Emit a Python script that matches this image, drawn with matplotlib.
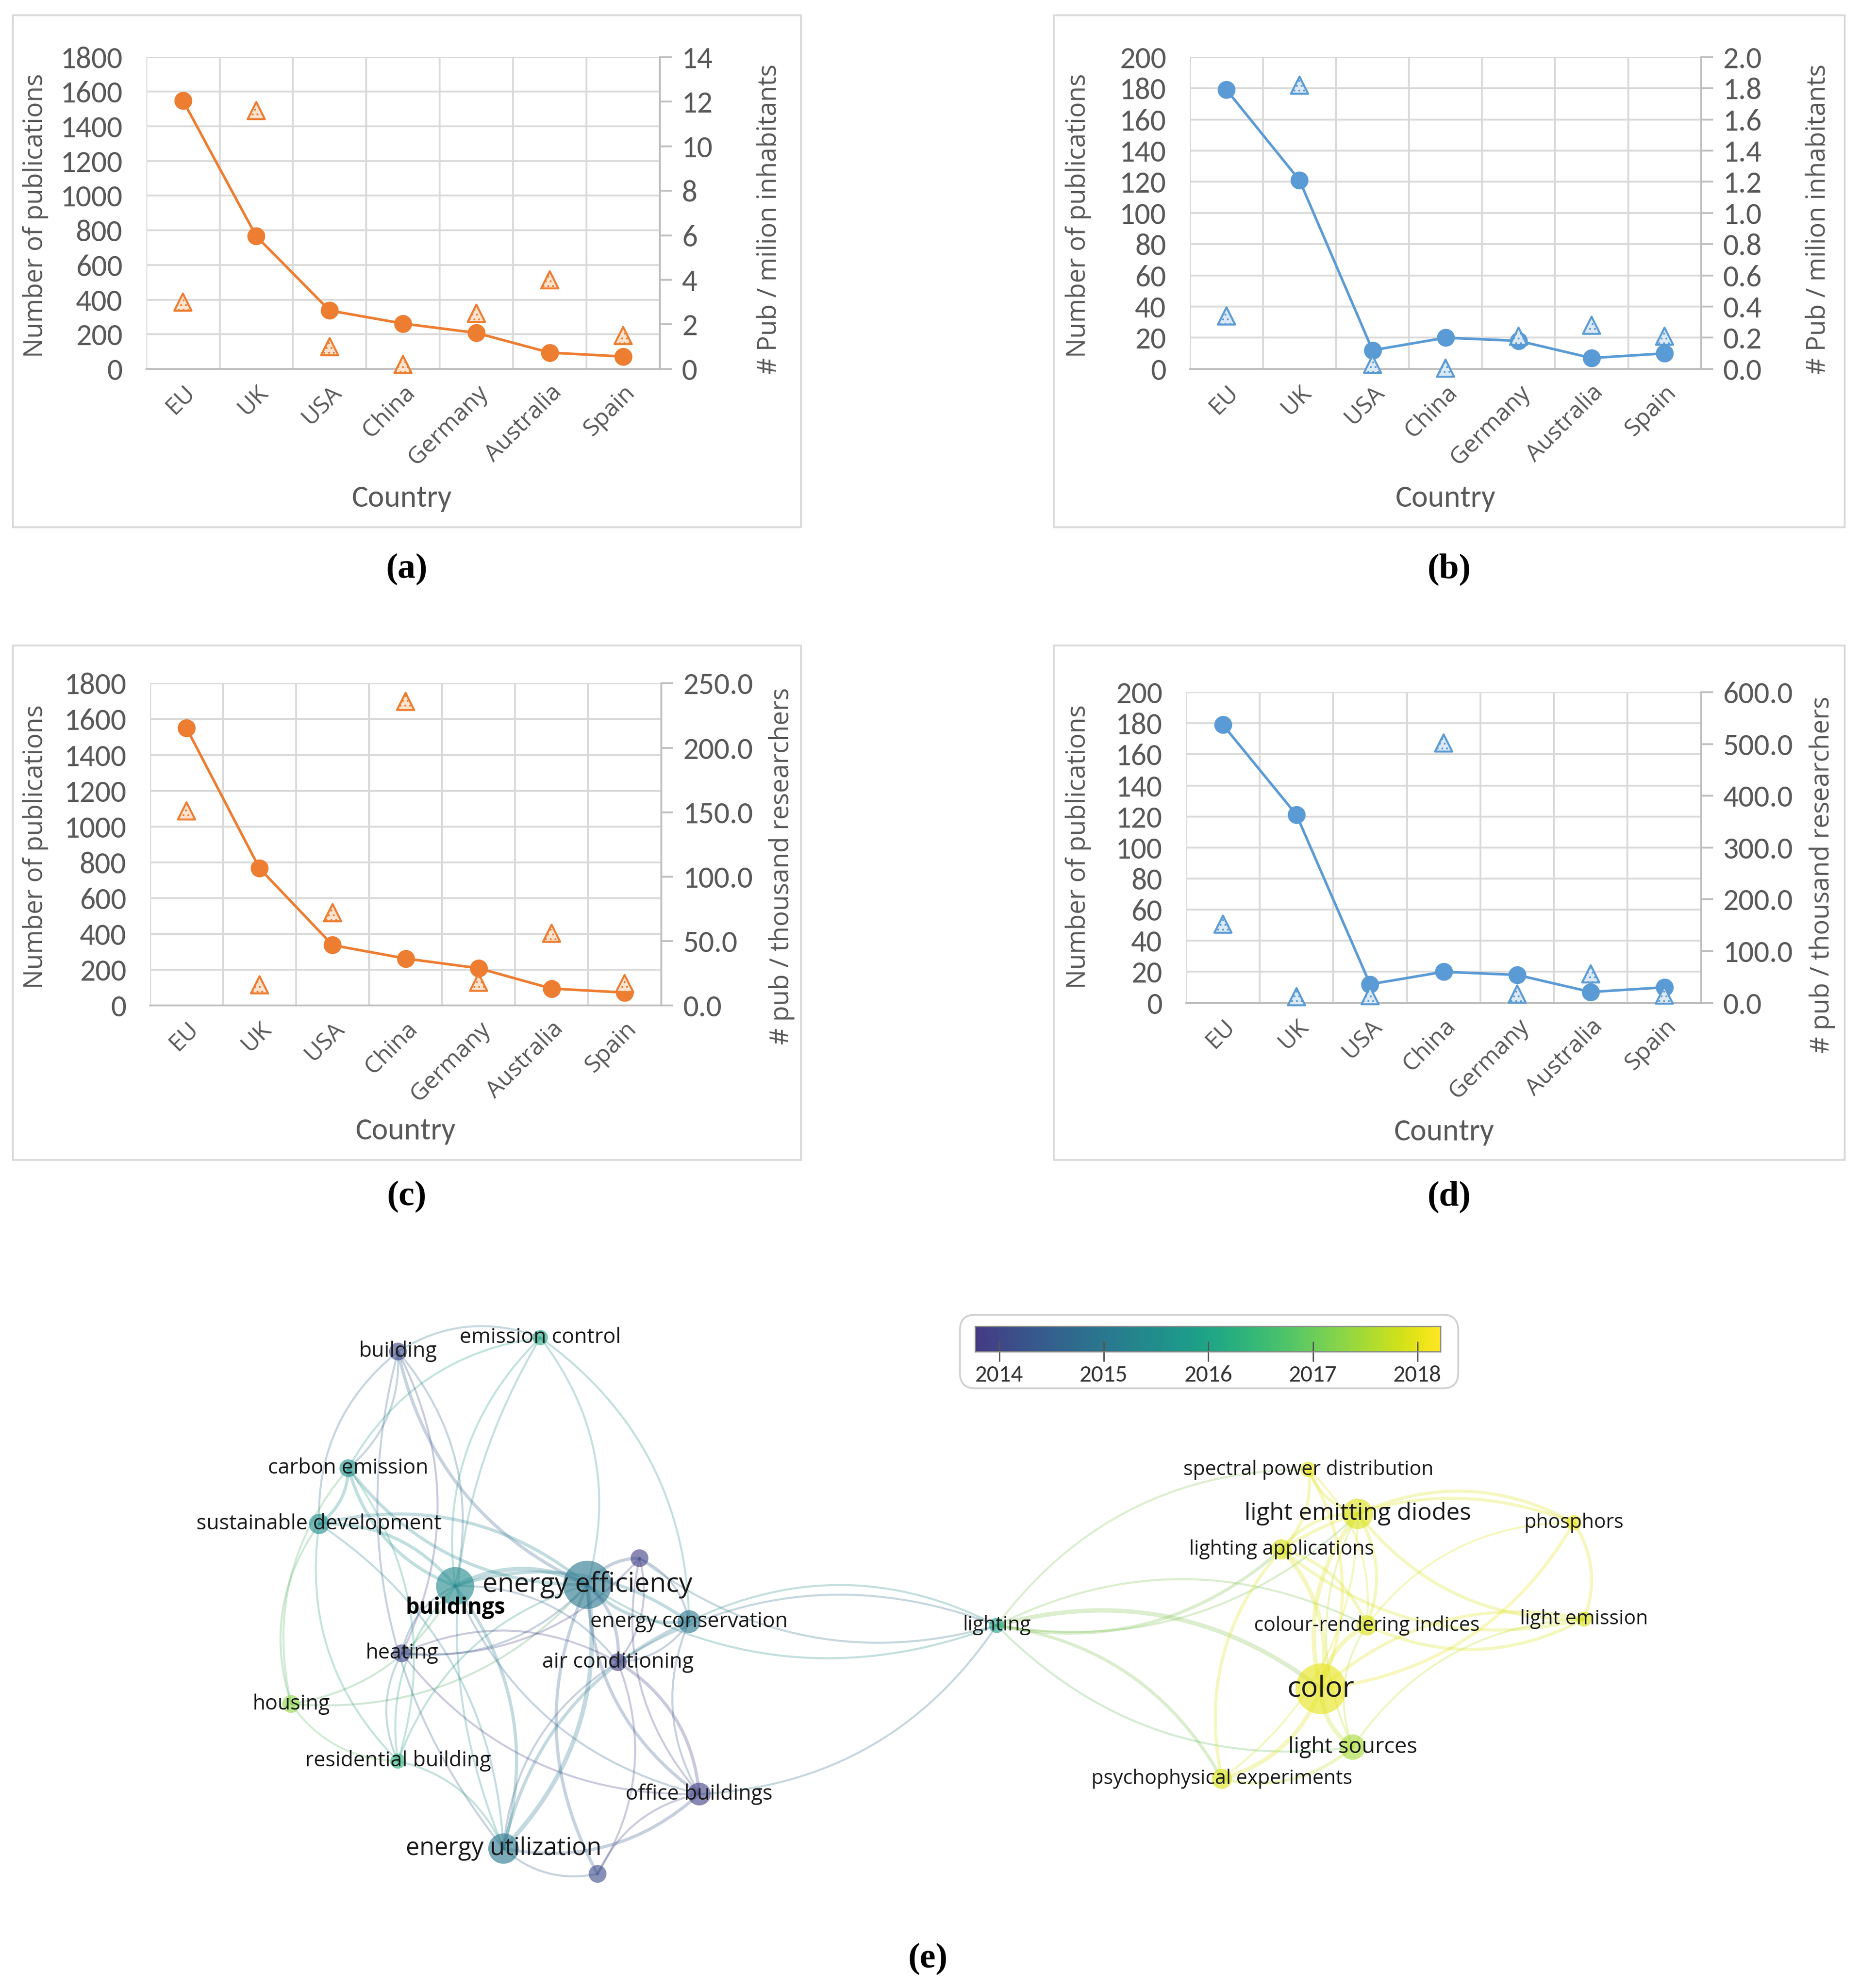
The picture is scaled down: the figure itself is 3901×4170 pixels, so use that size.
import matplotlib.pyplot as plt
from matplotlib.patches import Rectangle, Circle, FancyArrowPatch, FancyBboxPatch
from matplotlib.colors import Normalize, ListedColormap
import matplotlib.ticker as mticker
import numpy as np

plt.rcParams['hatch.linewidth'] = 0.5

NARROW = ['Carlito', 'DejaVu Sans']
WIDE = ['Open Sans', 'DejaVu Sans']
SERIF = ['Liberation Serif', 'DejaVu Serif']

# ---- data for panels a-d ----
countries = ['EU', 'UK', 'USA', 'China', 'Germany', 'Australia', 'Spain']
pubs_energy = [1550, 766, 337, 262, 208, 94, 72]
pubs_light = [179, 121, 12, 20, 18, 7, 10]
energy_per_inhab = [3.0, 11.6, 1.0, 0.2, 2.5, 4.0, 1.5]
light_per_inhab = [0.34, 1.82, 0.03, 0.005, 0.21, 0.28, 0.21]
energy_per_res = [151, 16, 72, 236, 18, 56, 17]
light_per_res = [152, 12, 14, 502, 17, 56, 15]

# ---- data for panel e (keyword network) ----
node_names = ['building', 'emission control', 'carbon emission', 'sustainable development',
              'buildings', 'energy efficiency', 'n1', 'energy conservation', 'heating',
              'air conditioning', 'housing', 'residential building', 'office buildings',
              'energy utilization', 'n2', 'lighting', 'spectral power distribution',
              'light emitting diodes', 'lighting applications', 'phosphors',
              'colour-rendering indices', 'light emission', 'color', 'light sources',
              'psychophysical experiments']
node_x = [313, 425, 274, 251, 358, 462, 503, 542, 316, 486, 229, 313, 550, 396, 470,
          784, 1029, 1068, 1008, 1238, 1075, 1246, 1039, 1064, 961]
node_y = [1066, 1055, 1158, 1202, 1251, 1250, 1229, 1279, 1304, 1311, 1344, 1389, 1415,
          1458, 1478, 1282, 1159, 1194, 1222, 1201, 1282, 1277, 1332, 1378, 1403]
node_year = [2014.0, 2016.1, 2015.6, 2015.5, 2015.4, 2015.0, 2013.9, 2015.0, 2014.0,
             2013.9, 2017.3, 2016.3, 2013.9, 2015.0, 2014.1, 2015.9, 2018.0, 2017.9,
             2017.9, 2018.0, 2017.9, 2017.9, 2018.0, 2017.5, 2017.9]
node_size = [7, 6, 7, 8, 15, 19, 7, 9, 7, 7, 7, 6, 9, 12, 7, 6, 6, 12, 8, 6, 8, 6, 20, 10, 8]
label_size = [10.5, 10.5, 10.5, 10.5, 11, 13.5, 0, 10.5, 10.5, 10.5, 10.5, 10.5, 10.5,
              12.3, 0, 10, 10, 12, 10, 10, 10, 10, 14.5, 11, 10]

edges = [
    ('energy efficiency', 'buildings', 3), ('energy efficiency', 'energy utilization', 3),
    ('energy efficiency', 'energy conservation', 2), ('energy efficiency', 'air conditioning', 2),
    ('energy efficiency', 'office buildings', 2), ('energy efficiency', 'building', 2),
    ('energy efficiency', 'emission control', 1), ('energy efficiency', 'carbon emission', 2),
    ('energy efficiency', 'sustainable development', 2), ('energy efficiency', 'heating', 1),
    ('energy efficiency', 'residential building', 1), ('energy efficiency', 'housing', 1),
    ('energy efficiency', 'lighting', 1), ('energy efficiency', 'n1', 2),
    ('energy efficiency', 'n2', 2), ('buildings', 'energy utilization', 2),
    ('buildings', 'sustainable development', 2), ('buildings', 'carbon emission', 2),
    ('buildings', 'building', 1), ('buildings', 'energy conservation', 2),
    ('buildings', 'heating', 1), ('buildings', 'housing', 1),
    ('buildings', 'residential building', 1), ('buildings', 'air conditioning', 1),
    ('buildings', 'office buildings', 1), ('buildings', 'emission control', 1),
    ('sustainable development', 'carbon emission', 2), ('sustainable development', 'building', 1),
    ('sustainable development', 'residential building', 1),
    ('sustainable development', 'energy utilization', 1), ('sustainable development', 'housing', 1),
    ('carbon emission', 'emission control', 1), ('carbon emission', 'building', 1),
    ('carbon emission', 'residential building', 1), ('carbon emission', 'housing', 1),
    ('building', 'heating', 1), ('building', 'energy utilization', 1),
    ('building', 'emission control', 1), ('emission control', 'energy utilization', 1),
    ('emission control', 'energy conservation', 1), ('heating', 'residential building', 1),
    ('heating', 'air conditioning', 1), ('heating', 'office buildings', 1),
    ('air conditioning', 'office buildings', 2), ('air conditioning', 'energy utilization', 1),
    ('air conditioning', 'n2', 1), ('air conditioning', 'energy conservation', 1),
    ('office buildings', 'energy utilization', 2), ('office buildings', 'n2', 1),
    ('office buildings', 'energy conservation', 1), ('energy utilization', 'n2', 1),
    ('energy utilization', 'energy conservation', 2), ('energy utilization', 'residential building', 1),
    ('n1', 'air conditioning', 1), ('n1', 'office buildings', 1), ('n1', 'energy conservation', 1),
    ('n1', 'lighting', 1), ('energy conservation', 'lighting', 1), ('office buildings', 'lighting', 1),
    ('n1', 'heating', 1), ('housing', 'residential building', 1),
    ('lighting', 'color', 3), ('lighting', 'lighting applications', 2),
    ('lighting', 'spectral power distribution', 1), ('lighting', 'light emitting diodes', 1),
    ('lighting', 'psychophysical experiments', 2), ('lighting', 'light sources', 1),
    ('lighting', 'colour-rendering indices', 1), ('lighting', 'air conditioning', 1),
    ('color', 'light emitting diodes', 3), ('color', 'lighting applications', 3),
    ('color', 'colour-rendering indices', 3), ('color', 'light sources', 3),
    ('color', 'psychophysical experiments', 3), ('color', 'spectral power distribution', 2),
    ('color', 'light emission', 2), ('color', 'phosphors', 2),
    ('light emitting diodes', 'spectral power distribution', 2),
    ('light emitting diodes', 'lighting applications', 2), ('light emitting diodes', 'phosphors', 2),
    ('light emitting diodes', 'light emission', 2), ('light emitting diodes', 'colour-rendering indices', 2),
    ('light emitting diodes', 'light sources', 1), ('light emitting diodes', 'psychophysical experiments', 1),
    ('lighting applications', 'spectral power distribution', 2),
    ('lighting applications', 'colour-rendering indices', 2), ('lighting applications', 'light emission', 2),
    ('lighting applications', 'phosphors', 2), ('lighting applications', 'psychophysical experiments', 2),
    ('phosphors', 'light emission', 2), ('phosphors', 'colour-rendering indices', 1),
    ('light emission', 'colour-rendering indices', 2), ('light emission', 'light sources', 1),
    ('light sources', 'psychophysical experiments', 2), ('colour-rendering indices', 'light sources', 1),
    ('spectral power distribution', 'colour-rendering indices', 1),
]

year_ticks = [2014, 2015, 2016, 2017, 2018]

# ---- layout helpers (reference pixel grid 1463 x 1568) ----
W, H = 1463.0, 1568.0


def box(x0, y0, x1, y1):
    return [x0 / W, 1 - y1 / H, (x1 - x0) / W, (y1 - y0) / H]


fig = plt.figure(figsize=(3901 / 300, 4170 / 300), dpi=300)

ORANGE = '#ED7D31'
BLUE = '#5B9BD5'
GRID = '#d9d9d9'
TXT = '#595959'


def panel(frame, axb, pubs, ratio, color, face, lmax, lstep, rmax, rstep, rfmt, rlabel,
          ylab_xy, rlab_xy, country_xy, cap_xy, cap):
    fig.patches.append(Rectangle((frame[0] / W, 1 - frame[3] / H), (frame[2] - frame[0]) / W,
                                 (frame[3] - frame[1]) / H, transform=fig.transFigure,
                                 fill=False, ec=GRID, lw=0.9))
    ax = fig.add_axes(box(*axb))
    x = np.arange(len(countries))
    ax.plot(x, pubs, '-o', color=color, lw=1.3, ms=8, zorder=3, clip_on=False)
    ax.set_xlim(-0.5, len(countries) - 0.5)
    ax.set_ylim(0, lmax)
    ax.set_yticks(np.arange(0, lmax + 1e-9, lstep))
    ax.set_xticks(x)
    ax.set_xticklabels(countries, rotation=45, ha='right', va='top', rotation_mode='anchor',
                       fontfamily=WIDE, fontsize=12, color=TXT)
    ax.set_xticks(np.arange(-0.5, len(countries), 1), minor=True)
    ax.grid(axis='y', color=GRID, lw=0.9)
    ax.grid(axis='x', which='minor', color=GRID, lw=0.9)
    ax.set_axisbelow(True)
    ax.tick_params(axis='x', which='both', length=0, pad=6)
    ax.tick_params(axis='y', length=0, pad=12, labelcolor=TXT, labelsize=15.5)
    for lab in ax.get_yticklabels():
        lab.set_fontfamily(NARROW)
    for s in ['top', 'left', 'right']:
        ax.spines[s].set_visible(False)
    ax.spines['bottom'].set_color('#bfbfbf')
    ax.spines['bottom'].set_linewidth(0.9)

    ax2 = ax.twinx()
    ax2.scatter(x, ratio, marker='^', s=75, facecolor=face, edgecolor=color, linewidths=1.0,
                hatch='.....', zorder=4, clip_on=False)
    ax2.set_ylim(0, rmax)
    ax2.set_yticks(np.arange(0, rmax + 1e-9, rstep))
    ax2.yaxis.set_major_formatter(mticker.FormatStrFormatter(rfmt))
    ax2.tick_params(axis='y', direction='out', length=6, width=0.9, color='#bfbfbf',
                    labelcolor=TXT, labelsize=15.5, pad=5)
    for lab in ax2.get_yticklabels():
        lab.set_fontfamily(NARROW)
    for s in ['top', 'left', 'bottom']:
        ax2.spines[s].set_visible(False)
    ax2.spines['right'].set_color('#bfbfbf')
    ax2.spines['right'].set_linewidth(0.9)

    fig.text(ylab_xy[0] / W, 1 - ylab_xy[1] / H, 'Number of publications', rotation=90,
             ha='center', va='center', fontfamily=WIDE, fontsize=13, color=TXT)
    fig.text(rlab_xy[0] / W, 1 - rlab_xy[1] / H, rlabel, rotation=90,
             ha='center', va='center', fontfamily=WIDE, fontsize=13, color=TXT)
    fig.text(country_xy[0] / W, 1 - country_xy[1] / H, 'Country', ha='center', va='center',
             fontfamily=NARROW, fontsize=15.5, color=TXT)
    fig.text(cap_xy[0] / W, 1 - cap_xy[1] / H, cap, ha='center', va='center',
             fontfamily=SERIF, fontsize=18, fontweight='bold')


panel((10, 12, 630, 416), (115, 45, 519, 291), pubs_energy, energy_per_inhab, ORANGE, '#fbe3cf',
      1800, 200, 14, 2, '%d', '# Pub / milion inhabitants',
      (28, 170), (605, 173), (316, 393), (320, 449), '(a)')
panel((829, 12, 1451, 416), (936, 45, 1338, 291), pubs_light, light_per_inhab, BLUE, '#dbe8f5',
      200, 20, 2.0, 0.2, '%.1f', '# Pub / milion inhabitants',
      (848, 170), (1430, 173), (1137, 393), (1140, 449), '(b)')
panel((10, 509, 630, 915), (118, 539, 520, 793), pubs_energy, energy_per_res, ORANGE, '#fbe3cf',
      1800, 200, 250, 50, '%.1f', '# pub / thousand researchers',
      (28, 668), (615, 683), (319, 892), (320, 944), '(c)')
panel((829, 509, 1451, 915), (933, 546, 1338, 791), pubs_light, light_per_res, BLUE, '#dbe8f5',
      200, 20, 600, 100, '%.1f', '# pub / thousand researchers',
      (848, 668), (1433, 690), (1136, 893), (1140, 944), '(d)')

# ---- panel e: network ----
axn = fig.add_axes(box(0, 1030, W, 1500))
axn.set_xlim(0, W)
axn.set_ylim(1500, 1030)
axn.axis('off')
# VOSviewer-like scale: viridis without its darkest end
cmap = ListedColormap(plt.cm.viridis(np.linspace(0.17, 1.0, 256)))
norm = Normalize(2013.77, 2018.22)
idx = {n: i for i, n in enumerate(node_names)}


def ncolor(i):
    return np.array(cmap(norm(node_year[i])))


for k, (a, b, w) in enumerate(edges):
    i, j = idx[a], idx[b]
    c = (ncolor(i) + ncolor(j)) / 2
    rad = 0.25 if k % 2 == 0 else -0.25
    p = FancyArrowPatch((node_x[i], node_y[i]), (node_x[j], node_y[j]),
                        connectionstyle='arc3,rad=%.2f' % rad, arrowstyle='-',
                        color=c, alpha=0.28, lw=0.4 + 0.6 * w, shrinkA=0, shrinkB=0, zorder=1)
    axn.add_patch(p)

for i, n in enumerate(node_names):
    axn.add_patch(Circle((node_x[i], node_y[i]), node_size[i], color=ncolor(i), alpha=0.62,
                         lw=0, zorder=2))

for i, n in enumerate(node_names):
    if label_size[i] == 0:
        continue
    if n == 'buildings':
        axn.text(node_x[i], node_y[i] + 17, n, ha='center', va='center', fontsize=label_size[i],
                 fontweight='bold', fontfamily=WIDE, color='black', zorder=3)
        continue
    axn.text(node_x[i], node_y[i], n, ha='center', va='center', fontsize=label_size[i],
             fontfamily=WIDE, color='#1a1a1a', zorder=3)

# colour scale legend
fig.patches.append(FancyBboxPatch((755 / W, 1 - 1095 / H), (1147 - 755) / W, (1095 - 1037) / H,
                                  boxstyle='round,pad=0,rounding_size=0.008',
                                  transform=fig.transFigure, fc='none', ec='#d0d0d0', lw=0.9))
axc = fig.add_axes(box(767, 1046, 1133, 1066))
grad = np.linspace(norm.vmin, norm.vmax, 256).reshape(1, -1)
axc.imshow(grad, cmap=cmap, norm=norm, aspect='auto',
           extent=[norm.vmin, norm.vmax, 0, 1])
axc.set_xlim(norm.vmin, norm.vmax)
axc.set_yticks([])
axc.set_xticks(year_ticks)
axc.tick_params(axis='x', direction='inout', length=10, width=0.7, color='#555555',
                labelsize=12, labelcolor='#333333', pad=2)
for lab in axc.get_xticklabels():
    lab.set_fontfamily(NARROW)
for s in axc.spines.values():
    s.set_color('#888888')
    s.set_linewidth(0.6)

fig.text(730 / W, 1 - 1545 / H, '(e)', ha='center', va='center',
         fontfamily=SERIF, fontsize=18, fontweight='bold')

fig.savefig('out.png', dpi=300, facecolor='white')
